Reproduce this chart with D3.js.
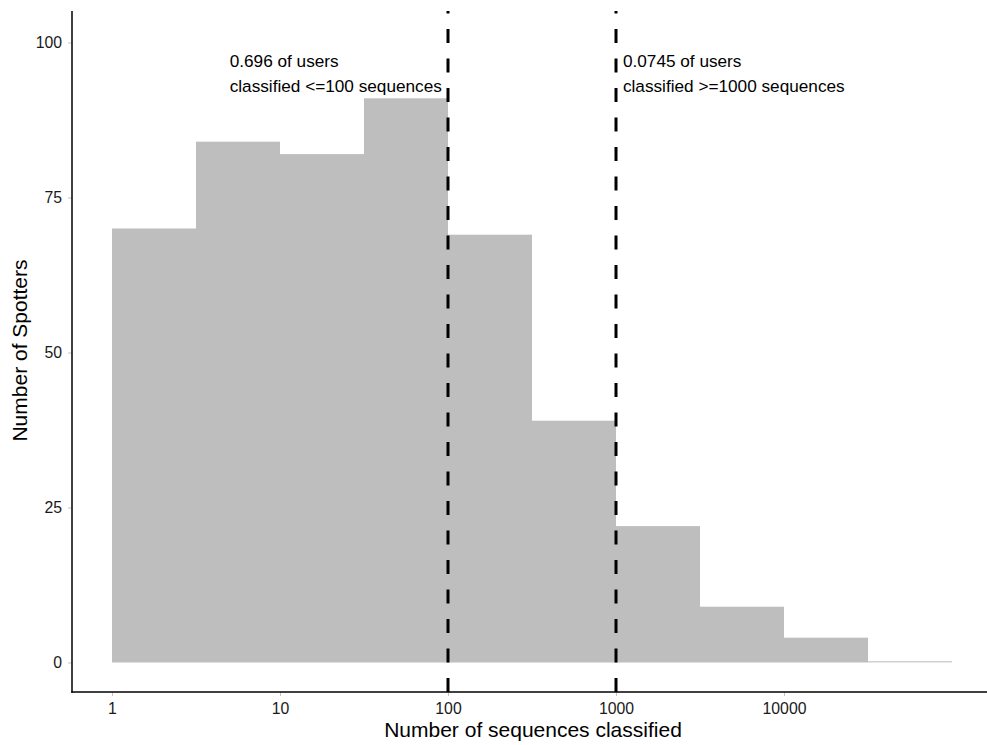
<!DOCTYPE html>
<html><head><meta charset="utf-8">
<script src="https://cdn.jsdelivr.net/npm/d3@7"></script>
<style>body{margin:0;background:#fff}svg{display:block}text{font-family:"Liberation Sans",Arial,sans-serif}</style>
</head><body>
<script>
const binEdges = [1, 3.1623, 10, 31.623, 100, 316.23, 1000, 3162.3, 10000, 31623, 100000];
const counts = [70, 84, 82, 91, 69, 39, 22, 9, 4, 0];
const xTicks = [1, 10, 100, 1000, 10000];
const yTicks = [0, 25, 50, 75, 100];
const vlines = [100, 1000];
const annotations = [
  {x: 5.02, lines: ["0.696 of users", "classified <=100 sequences"]},
  {x: 1100, lines: ["0.0745 of users", "classified >=1000 sequences"]}
];

(function () {
const W = 987, H = 745;
const pL = 72, pR = 987, pT = 11, pB = 692;
const svg = d3.select("body").append("svg").attr("width", W).attr("height", H);

const x = d3.scaleLog().domain([Math.pow(10, -40/168), Math.pow(10, 875/168)]).range([pL, pR]);
const y = d3.scaleLinear().domain([-4.76, 105.08]).range([pB, pT]);

const bins = counts.map((c, i) => ({x0: binEdges[i], x1: binEdges[i+1], c}));
svg.append("g").selectAll("rect").data(bins).join("rect")
  .attr("x", d => x(d.x0))
  .attr("width", d => x(d.x1) - x(d.x0))
  .attr("y", d => Math.min(y(d.c), y(0) - 1.5))
  .attr("height", d => Math.max(1.5, y(0) - y(d.c)))
  .attr("fill", d => d.c === 0 ? "#d0d0d0" : "#bebebe");

svg.append("clipPath").attr("id", "pc").append("rect")
  .attr("x", pL).attr("y", pT).attr("width", pR - pL).attr("height", pB - pT);
svg.append("g").attr("clip-path", "url(#pc)").selectAll("line").data(vlines).join("line")
  .attr("x1", d => x(d)).attr("x2", d => x(d))
  .attr("y1", pB).attr("y2", pT - 20)
  .attr("stroke", "#000").attr("stroke-width", 3)
  .attr("stroke-dasharray", "14,15.5");

annotations.forEach(a => {
  const t = svg.append("text").attr("x", x(a.x)).attr("y", 67)
    .attr("font-size", 17.2).attr("fill", "#000");
  a.lines.forEach((l, i) => t.append("tspan").attr("x", x(a.x)).attr("dy", i === 0 ? 0 : 24.7).text(l));
});

const xAxis = d3.axisBottom(x).tickValues(xTicks).tickFormat(d3.format("d")).tickSize(4).tickPadding(7);
const gx = svg.append("g").attr("transform", `translate(0,${pB})`).call(xAxis);
gx.select(".domain").remove();
gx.selectAll(".tick line").attr("stroke", "#c4c4c4");
gx.selectAll(".tick text").attr("font-size", 15.8).attr("fill", "#1a1a1a").attr("font-family", "Liberation Sans, Arial, sans-serif");

const yAxis = d3.axisLeft(y).tickValues(yTicks).tickSize(4).tickPadding(6);
const gy = svg.append("g").attr("transform", `translate(${pL},0)`).call(yAxis);
gy.select(".domain").remove();
gy.selectAll(".tick line").attr("stroke", "#c4c4c4");
gy.selectAll(".tick text").attr("font-size", 15.8).attr("fill", "#1a1a1a").attr("font-family", "Liberation Sans, Arial, sans-serif");

svg.append("line").attr("x1", pL).attr("x2", pL).attr("y1", pT).attr("y2", pB + 0.75)
  .attr("stroke", "#000").attr("stroke-width", 1.5);
svg.append("line").attr("x1", pL - 0.75).attr("x2", pR).attr("y1", pB).attr("y2", pB)
  .attr("stroke", "#000").attr("stroke-width", 1.5);

svg.append("text").attr("x", 533).attr("y", 737).attr("text-anchor", "middle")
  .attr("font-size", 21).attr("fill", "#000").text("Number of sequences classified");
svg.append("text").attr("transform", `translate(27,350.5) rotate(-90)`)
  .attr("text-anchor", "middle").attr("font-size", 21).attr("fill", "#000").text("Number of Spotters");
})();
</script>
</body></html>
